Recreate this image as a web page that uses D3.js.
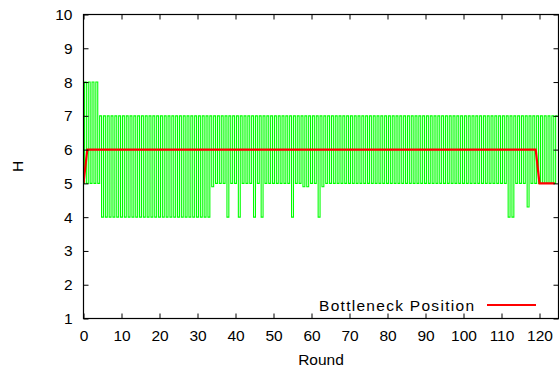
<!DOCTYPE html>
<html>
<head>
<meta charset="utf-8">
<script src="https://cdn.jsdelivr.net/npm/d3@7"></script>
<style>
  body { margin: 0; background: #fff; }
  text { font-family: "Liberation Sans", Arial, sans-serif; font-size: 15.5px; fill: #000; }
</style>
</head>
<body>
<script>
// rounds 0..124
var rounds = d3.range(0, 125);

// green band: upper and lower H reached in each round
var greenHigh = [
  8,8,8,8,7,7,7,7,7,7,
  7,7,7,7,7,7,7,7,7,7,
  7,7,7,7,7,7,7,7,7,7,
  7,7,7,7,7,7,7,7,7,7,
  7,7,7,7,7,7,7,7,7,7,
  7,7,7,7,7,7,7,7,7,7,
  7,7,7,7,7,7,7,7,7,7,
  7,7,7,7,7,7,7,7,7,7,
  7,7,7,7,7,7,7,7,7,7,
  7,7,7,7,7,7,7,7,7,7,
  7,7,7,7,7,7,7,7,7,7,
  7,7,7,7,7,7,7,7,7,7,
  7,7,7,7,7
];
var greenLow = [
  5,5,5,5,5,4,4,4,4,4,
  4,4,4,4,4,4,4,4,4,4,
  4,4,4,4,4,4,4,4,4,4,
  4,4,4,4,4.9,5,5,5,4,5,
  5,4,5,5,5,4,5,4,5,5,
  5,5,5,5,5,4,5,5,4.9,4.9,
  5,5,4,4.9,5,5,5,5,5,5,
  5,5,5,5,5,5,5,5,5,5,
  5,5,5,5,5,5,5,5,5,5,
  5,5,5,5,5,5,5,5,5,5,
  5,5,5,5,5,5,5,5,5,5,
  5,5,4,4,5,5,5,4.3,5,5,
  5,5,5,5,5
];
// bottleneck position per round
var bottleneck = [
  5,6,6,6,6,6,6,6,6,6,
  6,6,6,6,6,6,6,6,6,6,
  6,6,6,6,6,6,6,6,6,6,
  6,6,6,6,6,6,6,6,6,6,
  6,6,6,6,6,6,6,6,6,6,
  6,6,6,6,6,6,6,6,6,6,
  6,6,6,6,6,6,6,6,6,6,
  6,6,6,6,6,6,6,6,6,6,
  6,6,6,6,6,6,6,6,6,6,
  6,6,6,6,6,6,6,6,6,6,
  6,6,6,6,6,6,6,6,6,6,
  6,6,6,6,6,6,6,6,6,6,
  5,5,5,5,5
];
var xTicks = [0,10,20,30,40,50,60,70,80,90,100,110,120];
var yTicks = [1,2,3,4,5,6,7,8,9,10];

var width = 559, height = 369;

var svg = d3.select("body").append("svg")
  .attr("width", width)
  .attr("height", height);

var x = d3.scaleLinear().domain([0, 125]).range([83.5, 558.5]);
var y = d3.scaleLinear().domain([1, 10]).range([318.5, 14.5]);

svg.append("clipPath").attr("id", "plot")
  .append("rect")
  .attr("x", x(0)).attr("y", y(10))
  .attr("width", x(125) - x(0)).attr("height", y(1) - y(10));

// green: low part around each round, then up to the high part
var pts = [];
rounds.forEach(function (r, i) {
  pts.push([r - 0.25, greenLow[i]]);
  pts.push([r + 0.25, greenLow[i]]);
  pts.push([r + 0.25, greenHigh[i]]);
  pts.push([r + 0.75, greenHigh[i]]);
});

var line = d3.line()
  .x(function (d) { return x(d[0]); })
  .y(function (d) { return y(d[1]); });

svg.append("path")
  .attr("clip-path", "url(#plot)")
  .attr("d", line(pts))
  .attr("fill", "none")
  .attr("stroke", "#00ff00")
  .attr("stroke-width", 1.1);

svg.append("path")
  .attr("clip-path", "url(#plot)")
  .attr("d", d3.line()
    .x(function (d, i) { return x(rounds[i]); })
    .y(function (d) { return y(d); })(bottleneck))
  .attr("fill", "none")
  .attr("stroke", "#ff0000")
  .attr("stroke-width", 2.2);

// axes, ticks pointing inward, mirrored on top/right
svg.append("g")
  .attr("transform", "translate(0," + y(1) + ")")
  .call(d3.axisBottom(x).tickValues(xTicks).tickSizeInner(-5).tickSizeOuter(0).tickPadding(11));
svg.append("g")
  .attr("transform", "translate(" + x(0) + ",0)")
  .call(d3.axisLeft(y).tickValues(yTicks).tickSizeInner(-5).tickSizeOuter(0).tickPadding(11));
svg.append("g")
  .attr("transform", "translate(0," + y(10) + ")")
  .call(d3.axisTop(x).tickValues(xTicks).tickSizeInner(-5).tickSizeOuter(0).tickFormat(""));
svg.append("g")
  .attr("transform", "translate(" + x(125) + ",0)")
  .call(d3.axisRight(y).tickValues(yTicks).tickSizeInner(-5).tickSizeOuter(0).tickFormat(""));

svg.selectAll(".domain").remove();
svg.selectAll(".tick line").attr("stroke", "#000");
svg.selectAll(".tick text").attr("font-family", null).attr("font-size", null);

svg.append("rect")
  .attr("x", x(0)).attr("y", y(10))
  .attr("width", x(125) - x(0)).attr("height", y(1) - y(10))
  .attr("fill", "none")
  .attr("stroke", "#000")
  .attr("stroke-width", 1.2);

// axis titles
svg.append("text")
  .attr("x", 321).attr("y", 365)
  .style("text-anchor", "middle")
  .text("Round");
svg.append("text")
  .attr("transform", "translate(23," + ((y(1) + y(10)) / 2) + ") rotate(-90)")
  .style("text-anchor", "middle")
  .text("H");

// legend
svg.append("text")
  .attr("x", 474).attr("y", 311)
  .style("text-anchor", "end")
  .attr("textLength", 155)
  .attr("lengthAdjust", "spacing")
  .text("Bottleneck Position");
svg.append("line")
  .attr("x1", 487).attr("x2", 536)
  .attr("y1", 305).attr("y2", 305)
  .attr("stroke", "#ff0000")
  .attr("stroke-width", 2);
</script>
</body>
</html>
